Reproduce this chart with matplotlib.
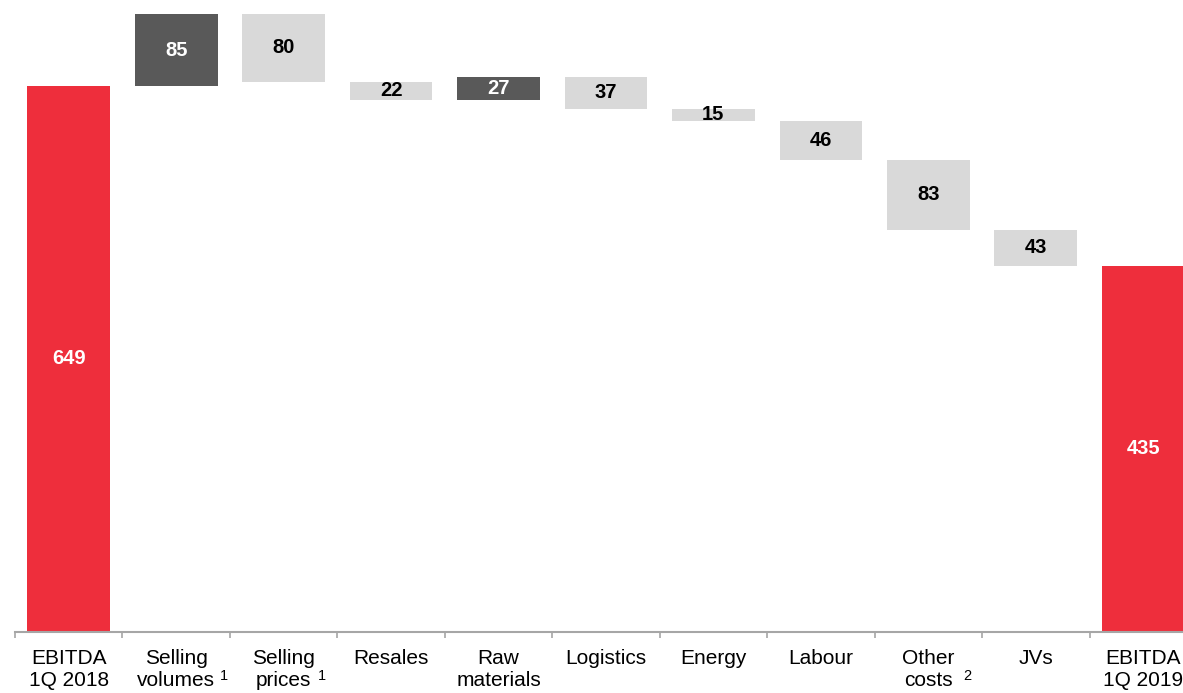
import matplotlib
matplotlib.use("Agg")
import matplotlib.pyplot as plt

plt.rcParams['font.family'] = ['Liberation Sans', 'DejaVu Sans']

categories = ["EBITDA\n1Q 2018", "Selling\nvolumes", "Selling\nprices", "Resales", "Raw\nmaterials",
              "Logistics", "Energy", "Labour", "Other\ncosts", "JVs", "EBITDA\n1Q 2019"]
superscripts = ["", "1", "1", "", "", "", "", "", "2", "", ""]
start_value = 649
changes = [85, -80, -22, 27, -37, -15, -46, -83, -43]
end_value = 435

RED = "#EE2E3C"
DARK = "#595959"
LIGHT = "#D9D9D9"

fig = plt.figure(figsize=(11.83, 6.93), dpi=100)
ax = fig.add_axes([15/1183, 61/693, 11*107.45/1183, 632/693])

n = len(categories)
bw = 0.77
VFS = 14.5
# start bar
ax.bar(0, start_value, width=bw, color=RED)
ax.text(0, start_value/2, str(start_value), ha='center', va='center', color='white',
        fontsize=VFS, fontweight='bold')
running = start_value
for i, c in enumerate(changes, start=1):
    bottom = running if c > 0 else running + c
    col = DARK if c > 0 else LIGHT
    ax.bar(i, abs(c), bottom=bottom, width=bw, color=col)
    ax.text(i, bottom + abs(c)/2, str(abs(c)), ha='center', va='center',
            color='white' if c > 0 else 'black', fontsize=VFS, fontweight='bold')
    running += c
ax.bar(n-1, end_value, width=bw, color=RED)
ax.text(n-1, end_value/2, str(end_value), ha='center', va='center', color='white',
        fontsize=VFS, fontweight='bold')

ax.set_xlim(-0.5, n-0.5)
ax.set_ylim(0, 751)
for s in ['top', 'right', 'left']:
    ax.spines[s].set_visible(False)
ax.spines['bottom'].set_color('#A6A6A6')
ax.spines['bottom'].set_linewidth(1.5)
ax.set_yticks([])
ax.set_xticks([i - 0.5 for i in range(n)])
ax.set_xticklabels([])
ax.tick_params(axis='x', direction='out', length=4.5, width=1.2, color='#A6A6A6')

tr = ax.get_xaxis_transform()
sup_off = {1: 0.44, 2: 0.36, 8: 0.36}
for i, lab in enumerate(categories):
    ax.text(i, -0.027, lab, transform=tr, ha='center', va='top', fontsize=15,
            linespacing=1.22, color='black')
    if superscripts[i]:
        ax.text(i + sup_off[i], -0.069, superscripts[i], transform=tr, ha='center',
                va='center', fontsize=10.5, color='black')

fig.savefig("out.png", dpi=100)
